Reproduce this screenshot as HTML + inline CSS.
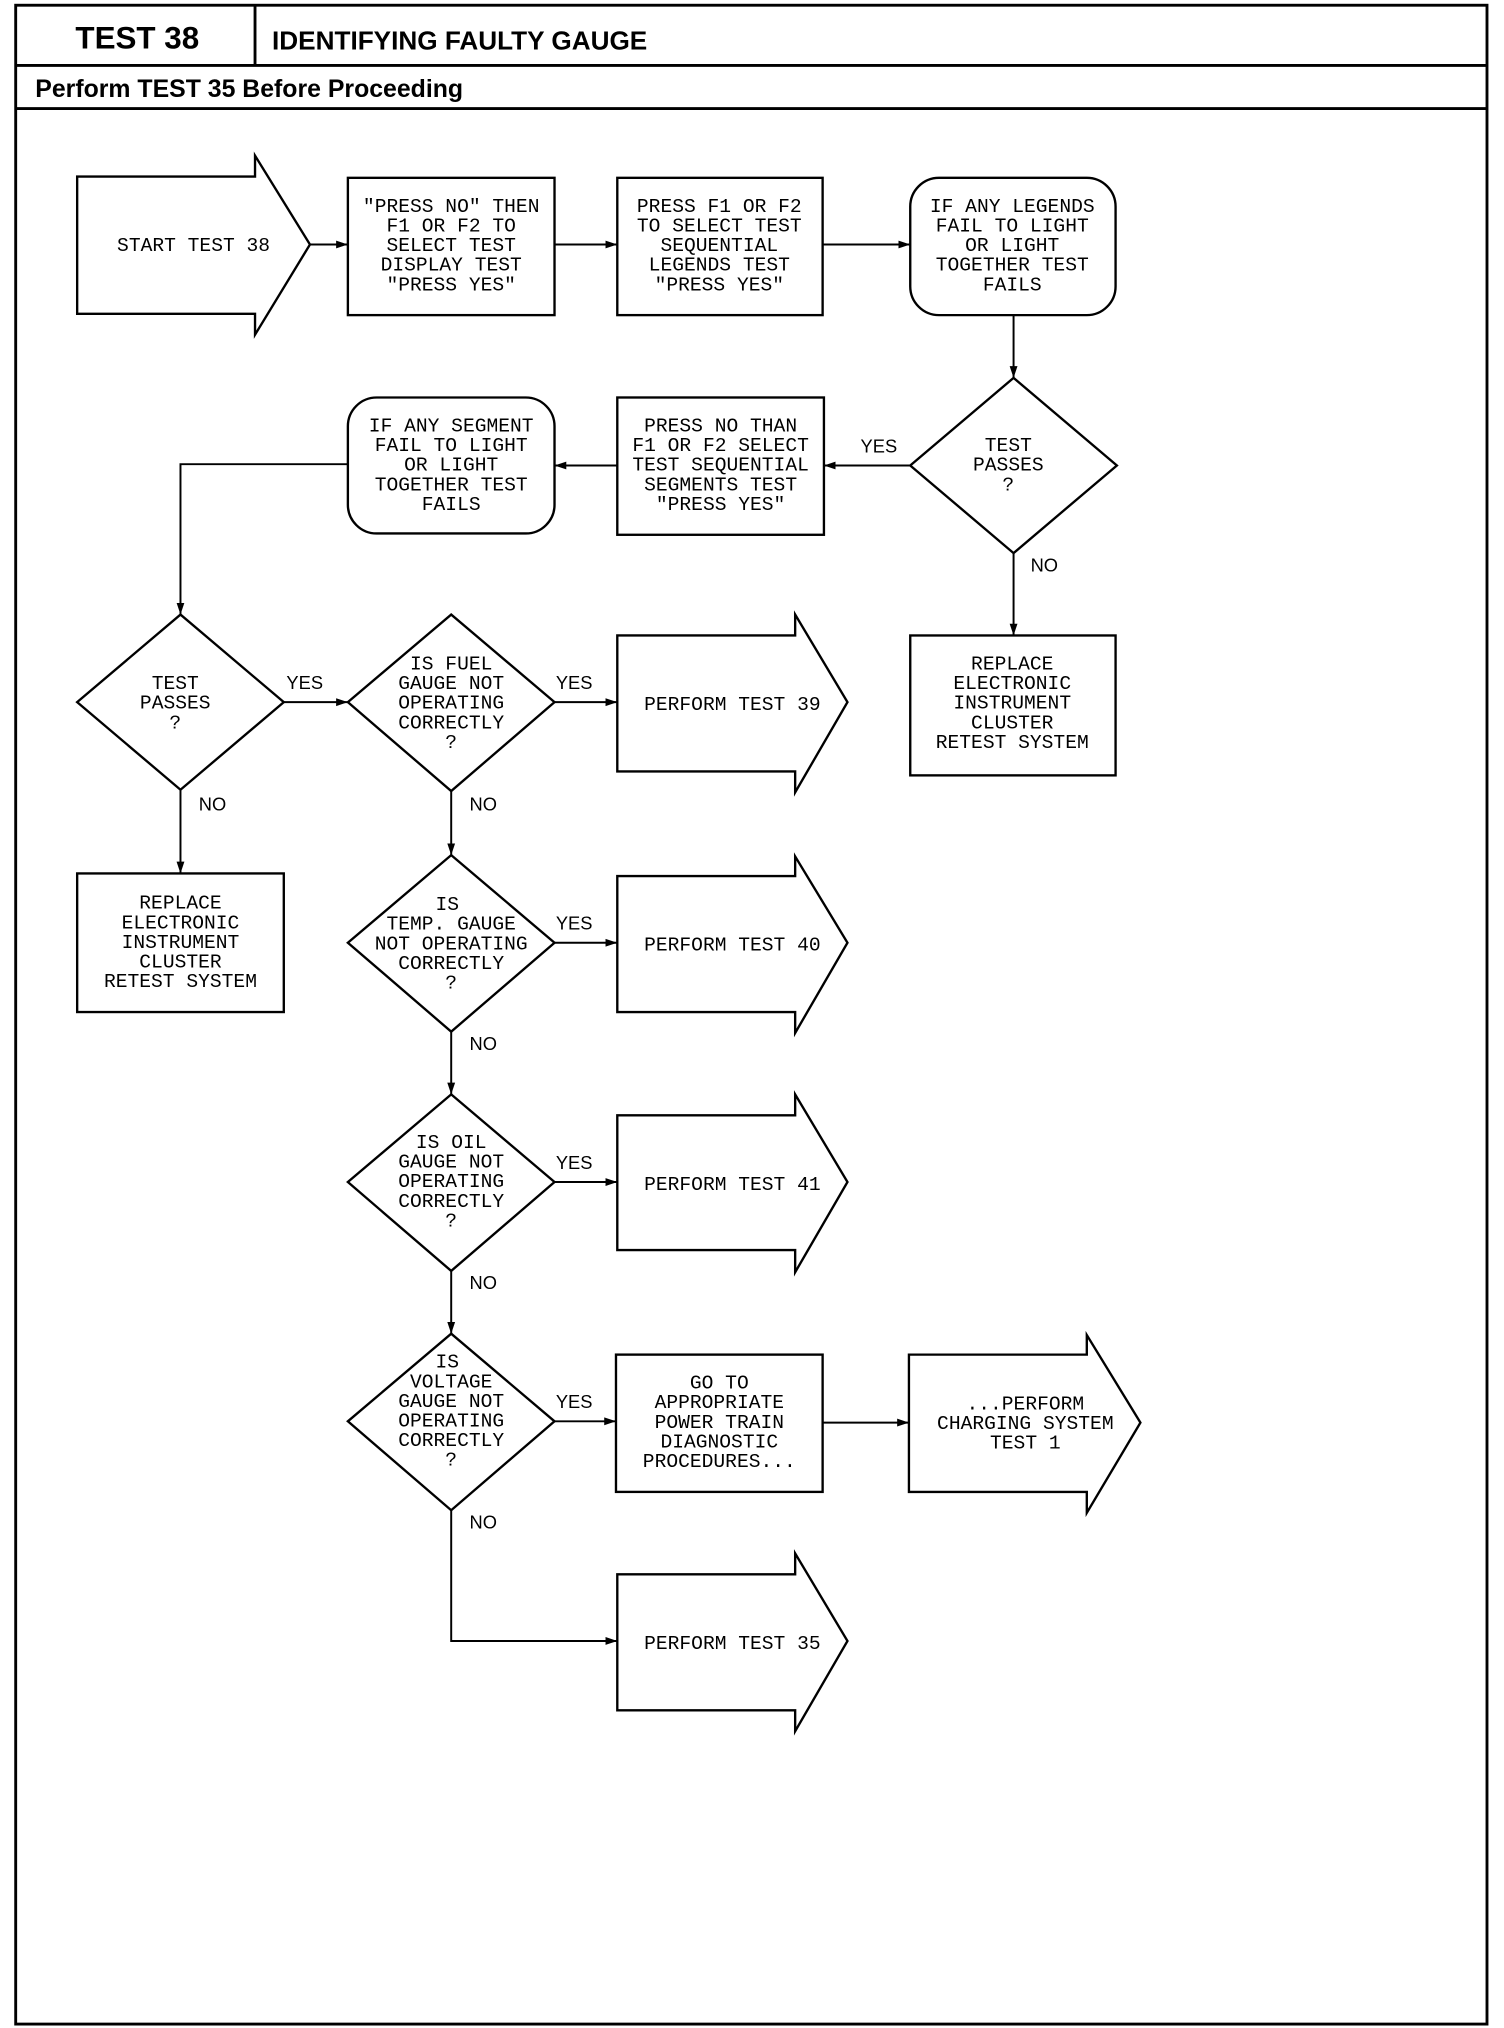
<!DOCTYPE html>
<html><head><meta charset="utf-8"><style>
html,body{margin:0;padding:0;background:#fff;}
svg{display:block;}
.t{font-family:"Liberation Mono",monospace;font-size:15px;text-anchor:middle;fill:#000;}
.l{font-family:"Liberation Sans",sans-serif;font-size:14px;fill:#000;}
</style></head><body>
<svg width="1504" height="2028" viewBox="0 0 1150 1551" preserveAspectRatio="none" xmlns="http://www.w3.org/2000/svg">
<defs><marker id="a" markerWidth="10" markerHeight="8" refX="9" refY="4" orient="auto" markerUnits="userSpaceOnUse"><path d="M0,1 L9,4 L0,7 Z" fill="#000"/></marker></defs>
<g fill="none" stroke="#000" stroke-width="2.2">
<rect x="12" y="4" width="1125" height="1544"/>
<line x1="12" y1="50" x2="1137" y2="50"/>
<line x1="195" y1="4" x2="195" y2="50"/>
<line x1="12" y1="83" x2="1137" y2="83"/>
</g>
<text x="105" y="37" style="font-family:'Liberation Sans',sans-serif;font-weight:bold;font-size:24px;text-anchor:middle">TEST 38</text>
<text x="208" y="38" style="font-family:'Liberation Sans',sans-serif;font-weight:bold;font-size:20px">IDENTIFYING FAULTY GAUGE</text>
<text x="27" y="74" style="font-family:'Liberation Sans',sans-serif;font-weight:bold;font-size:19px">Perform TEST 35 Before Proceeding</text>

<g fill="none" stroke="#000" stroke-width="1.8">
<!-- start arrow -->
<path d="M59,135 H195 V119 L237,187 L195,256 V240 H59 Z"/>
<rect x="266" y="136" width="158" height="105"/>
<rect x="472" y="136" width="157" height="105"/>
<rect x="696" y="136" width="157" height="105" rx="22"/>
<path d="M775,289 L854,356 L775,423 L696,356 Z"/>
<rect x="472" y="304" width="158" height="105"/>
<rect x="266" y="304" width="158" height="104" rx="22"/>
<path d="M138,470 L217,537 L138,604 L59,537 Z"/>
<path d="M345,470 L424,537 L345,605 L266,537 Z"/>
<rect x="696" y="486" width="157" height="107"/>
<rect x="59" y="668" width="158" height="106"/>
<path d="M345,654 L424,721 L345,789 L266,721 Z"/>
<path d="M345,837 L424,904 L345,972 L266,904 Z"/>
<path d="M345,1020 L424,1087 L345,1155 L266,1087 Z"/>
<rect x="471" y="1036" width="158" height="105"/>
<path d="M472,486 H608 V470 L648,537 L608,606 V590 H472 Z"/>
<path d="M472,670 H608 V655 L648,721 L608,790 V774 H472 Z"/>
<path d="M472,853 H608 V837 L648,904 L608,973 V956 H472 Z"/>
<path d="M695,1036 H831 V1021 L872,1088 L831,1157 V1141 H695 Z"/>
<path d="M472,1204 H608 V1188 L648,1255 L608,1324 V1308 H472 Z"/>
</g>
<g fill="none" stroke="#000" stroke-width="1.5" marker-end="url(#a)">
<line x1="237" y1="187" x2="266" y2="187"/>
<line x1="424" y1="187" x2="472" y2="187"/>
<line x1="629" y1="187" x2="696" y2="187"/>
<line x1="775" y1="241" x2="775" y2="289"/>
<line x1="696" y1="356" x2="630" y2="356"/>
<line x1="472" y1="356" x2="424" y2="356"/>
<polyline points="266,355 138,355 138,470"/>
<line x1="775" y1="423" x2="775" y2="486"/>
<line x1="217" y1="537" x2="266" y2="537"/>
<line x1="424" y1="537" x2="472" y2="537"/>
<line x1="138" y1="604" x2="138" y2="668"/>
<line x1="345" y1="605" x2="345" y2="654"/>
<line x1="424" y1="721" x2="472" y2="721"/>
<line x1="345" y1="789" x2="345" y2="837"/>
<line x1="424" y1="904" x2="472" y2="904"/>
<line x1="345" y1="972" x2="345" y2="1020"/>
<line x1="424" y1="1087" x2="471" y2="1087"/>
<line x1="629" y1="1088" x2="695" y2="1088"/>
<polyline points="345,1155 345,1255 472,1255"/>
</g>

<text class="t" x="148" y="192">START TEST 38</text>
<text class="t"><tspan x="345" y="162">"PRESS NO" THEN</tspan><tspan x="345" y="177">F1 OR F2 TO</tspan><tspan x="345" y="192">SELECT TEST</tspan><tspan x="345" y="207">DISPLAY TEST</tspan><tspan x="345" y="222">"PRESS YES"</tspan></text>
<text class="t"><tspan x="550" y="162">PRESS F1 OR F2</tspan><tspan x="550" y="177">TO SELECT TEST</tspan><tspan x="550" y="192">SEQUENTIAL</tspan><tspan x="550" y="207">LEGENDS TEST</tspan><tspan x="550" y="222">"PRESS YES"</tspan></text>
<text class="t"><tspan x="774" y="162">IF ANY LEGENDS</tspan><tspan x="774" y="177">FAIL TO LIGHT</tspan><tspan x="774" y="192">OR LIGHT</tspan><tspan x="774" y="207">TOGETHER TEST</tspan><tspan x="774" y="222">FAILS</tspan></text>
<text class="t"><tspan x="771" y="345">TEST</tspan><tspan x="771" y="360">PASSES</tspan><tspan x="771" y="375">?</tspan></text>
<text class="t"><tspan x="551" y="330">PRESS NO THAN</tspan><tspan x="551" y="345">F1 OR F2 SELECT</tspan><tspan x="551" y="360">TEST SEQUENTIAL</tspan><tspan x="551" y="375">SEGMENTS TEST</tspan><tspan x="551" y="390">"PRESS YES"</tspan></text>
<text class="t"><tspan x="345" y="330">IF ANY SEGMENT</tspan><tspan x="345" y="345">FAIL TO LIGHT</tspan><tspan x="345" y="360">OR LIGHT</tspan><tspan x="345" y="375">TOGETHER TEST</tspan><tspan x="345" y="390">FAILS</tspan></text>
<text class="t"><tspan x="774" y="512">REPLACE</tspan><tspan x="774" y="527">ELECTRONIC</tspan><tspan x="774" y="542">INSTRUMENT</tspan><tspan x="774" y="557">CLUSTER</tspan><tspan x="774" y="572">RETEST SYSTEM</tspan></text>
<text class="t"><tspan x="134" y="527">TEST</tspan><tspan x="134" y="542">PASSES</tspan><tspan x="134" y="557">?</tspan></text>
<text class="t"><tspan x="345" y="512">IS FUEL</tspan><tspan x="345" y="527">GAUGE NOT</tspan><tspan x="345" y="542">OPERATING</tspan><tspan x="345" y="557">CORRECTLY</tspan><tspan x="345" y="572">?</tspan></text>
<text class="t" x="560" y="543">PERFORM TEST 39</text>
<text class="t"><tspan x="138" y="695">REPLACE</tspan><tspan x="138" y="710">ELECTRONIC</tspan><tspan x="138" y="725">INSTRUMENT</tspan><tspan x="138" y="740">CLUSTER</tspan><tspan x="138" y="755">RETEST SYSTEM</tspan></text>
<text class="t"><tspan x="342" y="696">IS</tspan><tspan x="345" y="711">TEMP. GAUGE</tspan><tspan x="345" y="726">NOT OPERATING</tspan><tspan x="345" y="741">CORRECTLY</tspan><tspan x="345" y="756">?</tspan></text>
<text class="t" x="560" y="727">PERFORM TEST 40</text>
<text class="t"><tspan x="345" y="878">IS OIL</tspan><tspan x="345" y="893">GAUGE NOT</tspan><tspan x="345" y="908">OPERATING</tspan><tspan x="345" y="923">CORRECTLY</tspan><tspan x="345" y="938">?</tspan></text>
<text class="t" x="560" y="910">PERFORM TEST 41</text>
<text class="t"><tspan x="342" y="1046">IS</tspan><tspan x="345" y="1061">VOLTAGE</tspan><tspan x="345" y="1076">GAUGE NOT</tspan><tspan x="345" y="1091">OPERATING</tspan><tspan x="345" y="1106">CORRECTLY</tspan><tspan x="345" y="1121">?</tspan></text>
<text class="t"><tspan x="550" y="1062">GO TO</tspan><tspan x="550" y="1077">APPROPRIATE</tspan><tspan x="550" y="1092">POWER TRAIN</tspan><tspan x="550" y="1107">DIAGNOSTIC</tspan><tspan x="550" y="1122">PROCEDURES...</tspan></text>
<text class="t"><tspan x="784" y="1078">...PERFORM</tspan><tspan x="784" y="1093">CHARGING SYSTEM</tspan><tspan x="784" y="1108">TEST 1</tspan></text>
<text class="t" x="560" y="1261">PERFORM TEST 35</text>

<text class="l" x="658" y="346">YES</text>
<text class="l" x="788" y="437">NO</text>
<text class="l" x="219" y="527">YES</text>
<text class="l" x="425" y="527">YES</text>
<text class="l" x="152" y="620">NO</text>
<text class="l" x="359" y="620">NO</text>
<text class="l" x="425" y="711">YES</text>
<text class="l" x="359" y="803">NO</text>
<text class="l" x="425" y="894">YES</text>
<text class="l" x="359" y="986">NO</text>
<text class="l" x="425" y="1077">YES</text>
<text class="l" x="359" y="1169">NO</text>
</svg>
</body></html>
